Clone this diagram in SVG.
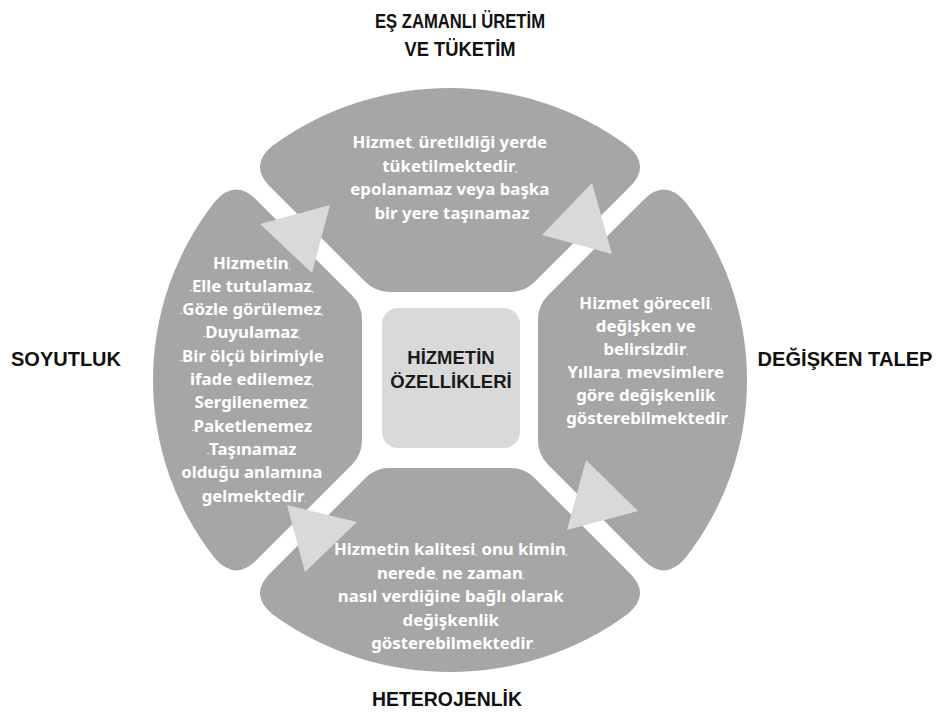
<svg xmlns="http://www.w3.org/2000/svg" width="939" height="715" viewBox="0 0 939 715">
  <style>
    .seg { fill: #a6a6a6; }
    .arrow { fill: #d9d9d9; }
    .body { font-family: "Noto Sans", "Open Sans", sans-serif; font-weight: 700; font-size: 16.8px; fill: #ffffff; text-anchor: middle; }
    .p { font-size: 6.5px; }
    .title { font-family: "Liberation Sans", Arial, sans-serif; font-weight: 700; font-size: 20px; fill: #111111; text-anchor: middle; }
    .center { font-family: "Liberation Sans", Arial, sans-serif; font-weight: 700; font-size: 18.5px; fill: #1a1a1a; text-anchor: middle; }
  </style>
  <rect width="939" height="715" fill="#ffffff"/>

  <!-- top segment: simultaneous production and consumption -->
  <g id="node-top">
    <path class="seg" d="M 389.4 292 Q 375.4 292 365.5 282.1 L 269.9 186.5 Q 248.7 165.3 272.5 145.8 A 297 292 0 0 1 627.5 145.8 Q 651.3 165.3 630.1 186.5 L 534.5 282.1 Q 524.6 292 510.6 292 Z"/>
    <text class="body" x="452">
      <tspan x="452" y="148">Hizmet<tspan class="p">,</tspan> üretildiği yerde</tspan>
      <tspan x="452" y="171.5">tüketilmektedir<tspan class="p">,</tspan></tspan>
      <tspan x="452" y="195">epolanamaz veya başka</tspan>
      <tspan x="452" y="218.5">bir yere taşınamaz</tspan>
    </text>
    <text class="title" x="460" y="28" textLength="170" lengthAdjust="spacingAndGlyphs">EŞ ZAMANLI ÜRETİM</text>
    <text class="title" x="460" y="56" textLength="111" lengthAdjust="spacingAndGlyphs">VE TÜKETİM</text>
  </g>

  <!-- right segment: variable demand -->
  <g id="node-right">
    <path class="seg" d="M 538 319.4 Q 538 305.4 547.9 295.5 L 643.7 199.7 Q 664.9 178.5 685.2 201.7 A 297 292 0 0 1 685.2 558.3 Q 664.9 581.5 643.7 560.3 L 547.9 464.5 Q 538 454.6 538 440.6 Z"/>
    <text class="body">
      <tspan x="648" y="309">Hizmet göreceli<tspan class="p">,</tspan></tspan>
      <tspan x="648" y="332">değişken ve</tspan>
      <tspan x="648" y="355">belirsizdir<tspan class="p">.</tspan></tspan>
      <tspan x="648" y="378">Yıllara<tspan class="p">,</tspan> mevsimlere</tspan>
      <tspan x="648" y="401">göre değişkenlik</tspan>
      <tspan x="648" y="424">gösterebilmektedir<tspan class="p">.</tspan></tspan>
    </text>
    <text class="title" x="845" y="366" textLength="175" lengthAdjust="spacingAndGlyphs">DEĞİŞKEN TALEP</text>
  </g>

  <!-- bottom segment: heterogeneity -->
  <g id="node-bottom">
    <path class="seg" d="M 510.6 468 Q 524.6 468 534.5 477.9 L 630.1 573.5 Q 651.3 594.7 627.5 614.2 A 297 292 0 0 1 272.5 614.2 Q 248.7 594.7 269.9 573.5 L 365.5 477.9 Q 375.4 468 389.4 468 Z"/>
    <text class="body">
      <tspan x="453" y="555">Hizmetin kalitesi<tspan class="p">,</tspan> onu kimin<tspan class="p">,</tspan></tspan>
      <tspan x="453" y="578.5">nerede<tspan class="p">,</tspan> ne zaman<tspan class="p">,</tspan></tspan>
      <tspan x="453" y="602">nasıl verdiğine bağlı olarak</tspan>
      <tspan x="453" y="625.5">değişkenlik</tspan>
      <tspan x="453" y="649">gösterebilmektedir<tspan class="p">.</tspan></tspan>
    </text>
    <text class="title" x="447" y="706" textLength="150" lengthAdjust="spacingAndGlyphs">HETEROJENLİK</text>
  </g>

  <!-- left segment: intangibility -->
  <g id="node-left">
    <path class="seg" d="M 362 440.6 Q 362 454.6 352.1 464.5 L 256.3 560.3 Q 235.1 581.5 214.8 558.3 A 297 292 0 0 1 214.8 201.7 Q 235.1 178.5 256.3 199.7 L 352.1 295.5 Q 362 305.4 362 319.4 Z"/>
    <text class="body">
      <tspan x="254" y="268.5">Hizmetin<tspan class="p">,</tspan></tspan>
      <tspan x="254" y="291.8"><tspan class="p">-</tspan>Elle tutulamaz<tspan class="p">,</tspan></tspan>
      <tspan x="254" y="315.1"><tspan class="p">-</tspan>Gözle görülemez<tspan class="p">,</tspan></tspan>
      <tspan x="254" y="338.4"><tspan class="p">-</tspan>Duyulamaz<tspan class="p">,</tspan></tspan>
      <tspan x="254" y="361.7"><tspan class="p">-</tspan>Bir ölçü birimiyle</tspan>
      <tspan x="254" y="385">ifade edilemez<tspan class="p">,</tspan></tspan>
      <tspan x="254" y="408.3">Sergilenemez<tspan class="p">,</tspan></tspan>
      <tspan x="254" y="431.6"><tspan class="p">-</tspan>Paketlenemez</tspan>
      <tspan x="254" y="454.9"><tspan class="p">-</tspan>Taşınamaz</tspan>
      <tspan x="254" y="478.2">olduğu anlamına</tspan>
      <tspan x="254" y="501.5">gelmektedir<tspan class="p">.</tspan></tspan>
    </text>
    <text class="title" x="66" y="366" textLength="110" lengthAdjust="spacingAndGlyphs">SOYUTLUK</text>
  </g>

  <!-- hub -->
  <g id="node-center">
    <rect x="382" y="308" width="138" height="140" rx="16" ry="16" fill="#d9d9d9"/>
    <text class="center" x="451" y="364">HİZMETİN</text>
    <text class="center" x="451" y="388">ÖZELLİKLERİ</text>
  </g>

  <!-- cycle arrows between the segments -->
  <g id="connectors">
    <polygon class="arrow" points="260,224 330,205 312,273"/>
    <polygon class="arrow" points="542,235 592,183 612,254"/>
    <polygon class="arrow" points="586,460 638,511 567,530"/>
    <polygon class="arrow" points="287,505 357,522 305,572"/>
  </g>
</svg>
